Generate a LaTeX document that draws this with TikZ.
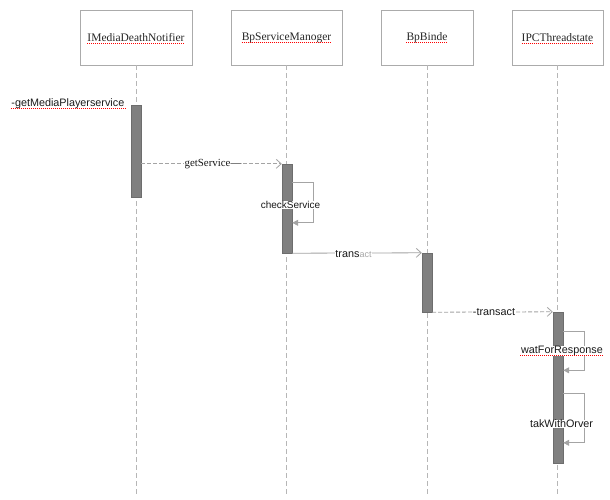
\documentclass[tikz,border=0pt]{standalone}
\usepackage{fontspec}
\setmainfont{Liberation Serif}
\newfontfamily\arialf{Liberation Sans}
\usetikzlibrary{arrows.meta,calc}
\definecolor{boxgray}{HTML}{ABABAB}
\definecolor{linegray}{HTML}{A4A4A4}
\definecolor{bargray}{HTML}{808080}
\begin{document}
\begin{tikzpicture}[x=1pt,y=-1pt,
  box/.style={draw=boxgray, fill=white, line width=0.8pt, minimum height=55pt, inner sep=0pt},
  boxtext/.style={font=\fontsize{11.5}{13}\selectfont, inner sep=0pt, text=black!85},
  lifeline/.style={draw=linegray!80, dash pattern=on 5pt off 3pt, line width=0.7pt},
  bar/.style={fill=bargray, draw=bargray!85!black, line width=0.4pt, minimum width=10pt, inner sep=0pt},
  msg/.style={draw=linegray, line width=0.8pt, -{Straight Barb[length=5pt,width=9pt]}},
  dmsg/.style={msg, dash pattern=on 4pt off 2pt},
  selfmsg/.style={draw=linegray, line width=0.8pt, -{Triangle[length=6pt,width=6pt]}},
  lbl/.style={font=\arialf\fontsize{10.8}{13}\selectfont, fill=white, inner sep=0.5pt, text=black!90},
  slbl/.style={font=\fontsize{10.9}{13}\selectfont, fill=white, inner sep=0.5pt, text=black!90},
  spell/.style={draw=red, line width=0.8pt, dash pattern=on 0.8pt off 1.2pt},
]
\useasboundingbox[fill=white] (0,0) rectangle (610,499);

% lifelines
\coordinate (bot) at (0,495);
\node[box, minimum width=112pt] (b1) at (136,37.5) {};
\node[box, minimum width=111pt] (b2) at (286.5,37.5) {};
\node[box, minimum width=92pt] (b3) at (427,37.5) {};
\node[box, minimum width=91pt] (b4) at (557.5,37.5) {};
\coordinate (e1) at (b1.south |- bot);
\coordinate (e2) at (b2.south |- bot);
\coordinate (e3) at (b3.south |- bot);
\coordinate (e4) at (b4.south |- bot);
\draw[lifeline] (b1.south) -- (e1);
\draw[lifeline] (b2.south) -- (e2);
\draw[lifeline] (b3.south) -- (e3);
\draw[lifeline] (b4.south) -- (e4);

% box labels
\node[boxtext] (t1) at (b1) {IMediaDeathNotifier};
\node[boxtext] (t2) at (b2) {BpServiceManoger};
\node[boxtext] (t3) at (b3) {BpBinde};
\node[boxtext] (t4) at (b4) {IPCThreadstate};
\foreach \t in {t1,t2,t3,t4}
  \draw[spell] ([yshift=-2pt]\t.base west) -- ([yshift=-2pt]\t.base east);

% activation bars
\node[bar, minimum height=92pt] (a1) at (136,151) {};
\node[bar, minimum height=89pt] (a2) at (287,208.5) {};
\node[bar, minimum height=59pt] (a3) at (427,282.5) {};
\node[bar, minimum height=151pt] (a4) at (558,387.5) {};

% messages
\draw[dmsg] (a1.east |- a2.north) -- (a2.north west);
\draw[msg] (a2.south east) -- (a3.north west);
\draw[dmsg] (a3.south east) -- (a4.north west);

% self messages
\coordinate (c1a) at ($(a2.north east)+(0,19)$);
\coordinate (c1b) at ($(a2.north east)+(0,59)$);
\draw[selfmsg] (c1a) -- ++(21,0) |- (c1b);
\coordinate (c2a) at ($(a4.north east)+(0,19.5)$);
\coordinate (c2b) at ($(a4.north east)+(0,58.5)$);
\draw[selfmsg] (c2a) -- ++(21,0) |- (c2b);
\coordinate (c3a) at ($(a4.north east)+(0,82)$);
\coordinate (c3b) at ($(a4.north east)+(0,131)$);
\draw[selfmsg] (c3a) -- ++(21,0) |- (c3b);

% labels
\node[lbl, anchor=east] (m0) at (125,104) {-getMediaPlayerservice};
\draw[spell] ([yshift=-2pt]m0.base west) -- ([yshift=-2pt]m0.base east);
\node[slbl] (m1) at (213,164) {getService—};
\node[lbl, font=\arialf\fontsize{10}{12}\selectfont] (m2) at (290.5,205) {checkService};
\node[lbl] (m3) at (353.5,254) {trans{\color{black!35}\fontsize{9}{11}\selectfont act}};
\node[lbl] (m4) at (494,312) {-transact};
\node[lbl] (m5) at (562,351) {watForResponse};
\draw[spell] ([yshift=-2pt]m5.base west) -- ([yshift=-2pt]m5.base east);
\node[lbl] (m6) at (561.5,424) {takWithOrver};
\end{tikzpicture}
\end{document}
